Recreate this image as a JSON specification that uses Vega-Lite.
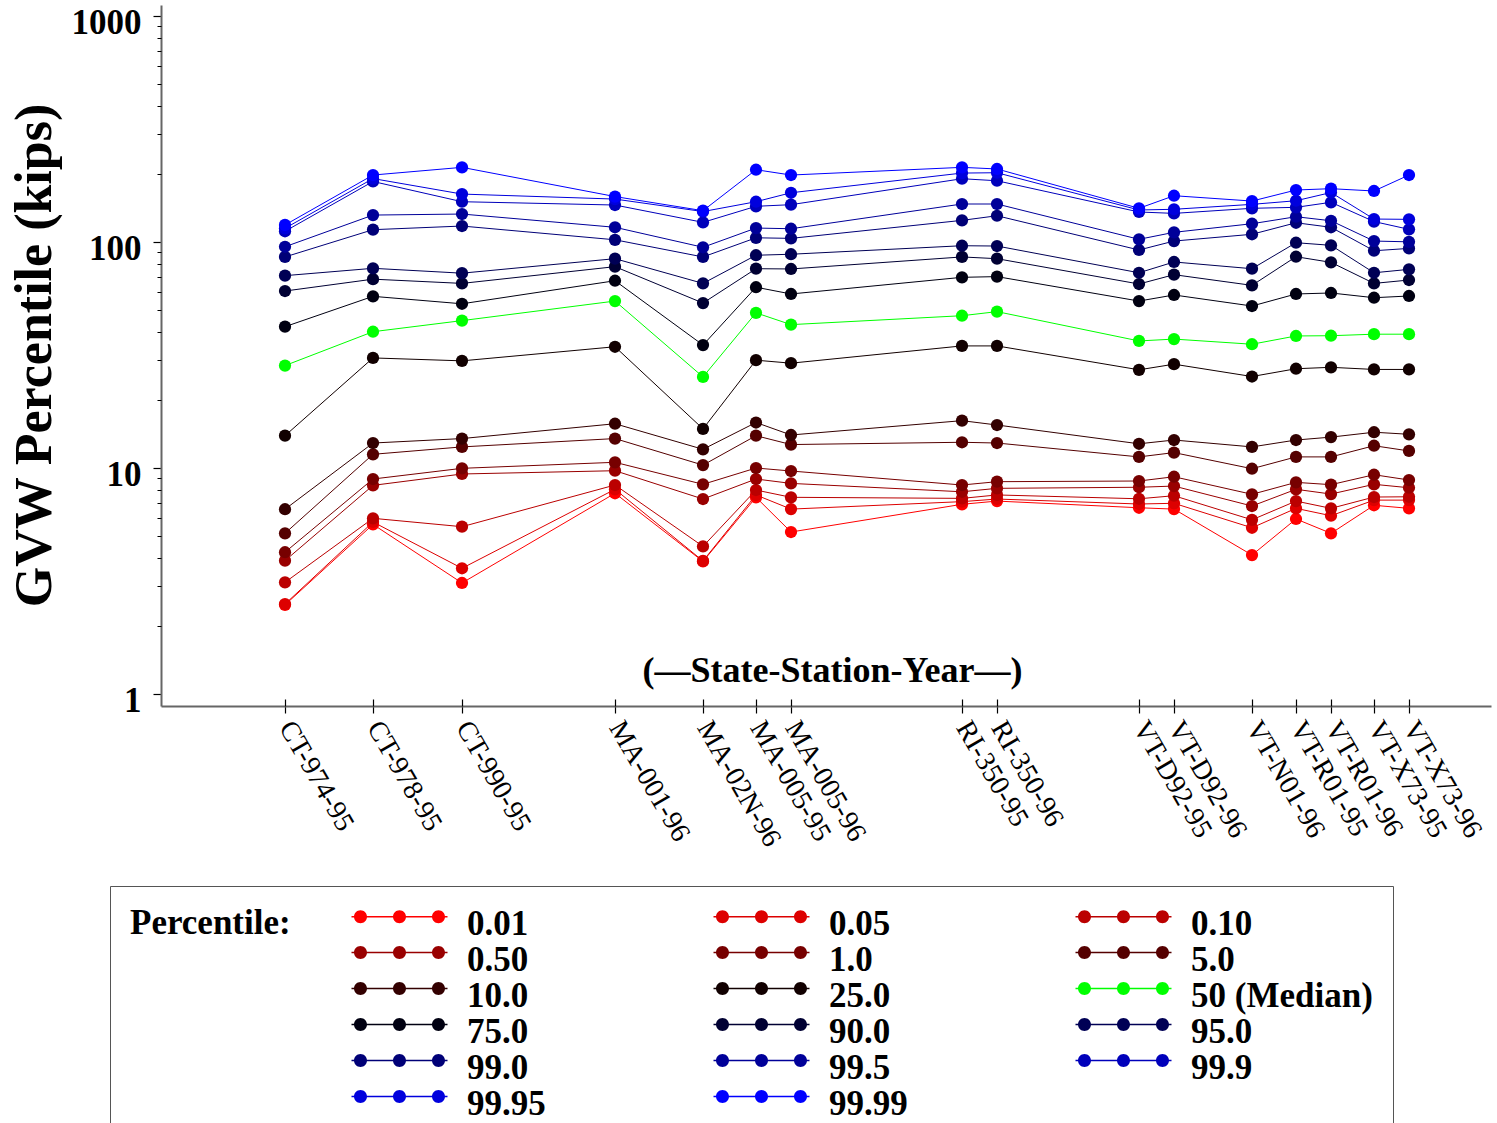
{
"$schema": "https://vega.github.io/schema/vega-lite/v6.json",
"width": 1330, "height": 701,
"autosize": {"type": "none"},
"padding": {"left": 161, "top": 5, "right": 6, "bottom": 417},
"background": "white",
"config": {"view": {"stroke": null}, "font": "Liberation Serif"},
"data": {"values": [
{"station":"CT-974-95","xpos":124,"pct":"0.01","gvw":2.48},{"station":"CT-974-95","xpos":124,"pct":"0.05","gvw":2.5},{"station":"CT-974-95","xpos":124,"pct":"0.10","gvw":3.12},{"station":"CT-974-95","xpos":124,"pct":"0.50","gvw":3.89},{"station":"CT-974-95","xpos":124,"pct":"1.0","gvw":4.24},{"station":"CT-974-95","xpos":124,"pct":"5.0","gvw":5.14},{"station":"CT-974-95","xpos":124,"pct":"10.0","gvw":6.57},{"station":"CT-974-95","xpos":124,"pct":"25.0","gvw":13.9},{"station":"CT-974-95","xpos":124,"pct":"50 (Median)","gvw":28.4},{"station":"CT-974-95","xpos":124,"pct":"75.0","gvw":42.2},{"station":"CT-974-95","xpos":124,"pct":"90.0","gvw":60.7},{"station":"CT-974-95","xpos":124,"pct":"95.0","gvw":71.0},{"station":"CT-974-95","xpos":124,"pct":"99.0","gvw":85.9},{"station":"CT-974-95","xpos":124,"pct":"99.5","gvw":95.3},{"station":"CT-974-95","xpos":124,"pct":"99.9","gvw":111.6},{"station":"CT-974-95","xpos":124,"pct":"99.95","gvw":115},{"station":"CT-974-95","xpos":124,"pct":"99.99","gvw":119},
{"station":"CT-978-95","xpos":212,"pct":"0.01","gvw":5.63},{"station":"CT-978-95","xpos":212,"pct":"0.05","gvw":5.77},{"station":"CT-978-95","xpos":212,"pct":"0.10","gvw":5.99},{"station":"CT-978-95","xpos":212,"pct":"0.50","gvw":8.38},{"station":"CT-978-95","xpos":212,"pct":"1.0","gvw":8.94},{"station":"CT-978-95","xpos":212,"pct":"5.0","gvw":11.5},{"station":"CT-978-95","xpos":212,"pct":"10.0","gvw":12.9},{"station":"CT-978-95","xpos":212,"pct":"25.0","gvw":30.7},{"station":"CT-978-95","xpos":212,"pct":"50 (Median)","gvw":40.1},{"station":"CT-978-95","xpos":212,"pct":"75.0","gvw":57.5},{"station":"CT-978-95","xpos":212,"pct":"90.0","gvw":68.5},{"station":"CT-978-95","xpos":212,"pct":"95.0","gvw":76.5},{"station":"CT-978-95","xpos":212,"pct":"99.0","gvw":113.4},{"station":"CT-978-95","xpos":212,"pct":"99.5","gvw":131.6},{"station":"CT-978-95","xpos":212,"pct":"99.9","gvw":185.3},{"station":"CT-978-95","xpos":212,"pct":"99.95","gvw":190.9},{"station":"CT-978-95","xpos":212,"pct":"99.99","gvw":197.9},
{"station":"CT-990-95","xpos":301,"pct":"0.01","gvw":3.1},{"station":"CT-990-95","xpos":301,"pct":"0.05","gvw":3.6},{"station":"CT-990-95","xpos":301,"pct":"0.10","gvw":5.5},{"station":"CT-990-95","xpos":301,"pct":"0.50","gvw":9.41},{"station":"CT-990-95","xpos":301,"pct":"1.0","gvw":9.97},{"station":"CT-990-95","xpos":301,"pct":"5.0","gvw":12.4},{"station":"CT-990-95","xpos":301,"pct":"10.0","gvw":13.5},{"station":"CT-990-95","xpos":301,"pct":"25.0","gvw":29.8},{"station":"CT-990-95","xpos":301,"pct":"50 (Median)","gvw":44.9},{"station":"CT-990-95","xpos":301,"pct":"75.0","gvw":53.3},{"station":"CT-990-95","xpos":301,"pct":"90.0","gvw":65.6},{"station":"CT-990-95","xpos":301,"pct":"95.0","gvw":72.8},{"station":"CT-990-95","xpos":301,"pct":"99.0","gvw":117.7},{"station":"CT-990-95","xpos":301,"pct":"99.5","gvw":133},{"station":"CT-990-95","xpos":301,"pct":"99.9","gvw":150.8},{"station":"CT-990-95","xpos":301,"pct":"99.95","gvw":163},{"station":"CT-990-95","xpos":301,"pct":"99.99","gvw":214},
{"station":"MA-001-96","xpos":454,"pct":"0.01","gvw":7.73},{"station":"MA-001-96","xpos":454,"pct":"0.05","gvw":8.05},{"station":"MA-001-96","xpos":454,"pct":"0.10","gvw":8.41},{"station":"MA-001-96","xpos":454,"pct":"0.50","gvw":9.73},{"station":"MA-001-96","xpos":454,"pct":"1.0","gvw":10.6},{"station":"MA-001-96","xpos":454,"pct":"5.0","gvw":13.5},{"station":"MA-001-96","xpos":454,"pct":"10.0","gvw":15.7},{"station":"MA-001-96","xpos":454,"pct":"25.0","gvw":34.4},{"station":"MA-001-96","xpos":454,"pct":"50 (Median)","gvw":54.8},{"station":"MA-001-96","xpos":454,"pct":"75.0","gvw":67.4},{"station":"MA-001-96","xpos":454,"pct":"90.0","gvw":77.8},{"station":"MA-001-96","xpos":454,"pct":"95.0","gvw":84.4},{"station":"MA-001-96","xpos":454,"pct":"99.0","gvw":102.3},{"station":"MA-001-96","xpos":454,"pct":"99.5","gvw":116.2},{"station":"MA-001-96","xpos":454,"pct":"99.9","gvw":145.8},{"station":"MA-001-96","xpos":454,"pct":"99.95","gvw":154.9},{"station":"MA-001-96","xpos":454,"pct":"99.99","gvw":158.9},
{"station":"MA-02N-96","xpos":542,"pct":"0.01","gvw":3.86},{"station":"MA-02N-96","xpos":542,"pct":"0.05","gvw":3.88},{"station":"MA-02N-96","xpos":542,"pct":"0.10","gvw":4.5},{"station":"MA-02N-96","xpos":542,"pct":"0.50","gvw":7.29},{"station":"MA-02N-96","xpos":542,"pct":"1.0","gvw":8.47},{"station":"MA-02N-96","xpos":542,"pct":"5.0","gvw":10.3},{"station":"MA-02N-96","xpos":542,"pct":"10.0","gvw":12.1},{"station":"MA-02N-96","xpos":542,"pct":"25.0","gvw":14.9},{"station":"MA-02N-96","xpos":542,"pct":"50 (Median)","gvw":25.3},{"station":"MA-02N-96","xpos":542,"pct":"75.0","gvw":35.0},{"station":"MA-02N-96","xpos":542,"pct":"90.0","gvw":53.7},{"station":"MA-02N-96","xpos":542,"pct":"95.0","gvw":65.6},{"station":"MA-02N-96","xpos":542,"pct":"99.0","gvw":85.9},{"station":"MA-02N-96","xpos":542,"pct":"99.5","gvw":94.8},{"station":"MA-02N-96","xpos":542,"pct":"99.9","gvw":122.2},{"station":"MA-02N-96","xpos":542,"pct":"99.95","gvw":136.4},{"station":"MA-02N-96","xpos":542,"pct":"99.99","gvw":137.6},
{"station":"MA-005-95","xpos":595,"pct":"0.01","gvw":7.42},{"station":"MA-005-95","xpos":595,"pct":"0.05","gvw":7.6},{"station":"MA-005-95","xpos":595,"pct":"0.10","gvw":7.99},{"station":"MA-005-95","xpos":595,"pct":"0.50","gvw":8.94},{"station":"MA-005-95","xpos":595,"pct":"1.0","gvw":10.0},{"station":"MA-005-95","xpos":595,"pct":"5.0","gvw":13.9},{"station":"MA-005-95","xpos":595,"pct":"10.0","gvw":15.9},{"station":"MA-005-95","xpos":595,"pct":"25.0","gvw":30.0},{"station":"MA-005-95","xpos":595,"pct":"50 (Median)","gvw":48.6},{"station":"MA-005-95","xpos":595,"pct":"75.0","gvw":63.1},{"station":"MA-005-95","xpos":595,"pct":"90.0","gvw":76.2},{"station":"MA-005-95","xpos":595,"pct":"95.0","gvw":87.4},{"station":"MA-005-95","xpos":595,"pct":"99.0","gvw":104.4},{"station":"MA-005-95","xpos":595,"pct":"99.5","gvw":115.3},{"station":"MA-005-95","xpos":595,"pct":"99.9","gvw":143.9},{"station":"MA-005-95","xpos":595,"pct":"99.95","gvw":150.8},{"station":"MA-005-95","xpos":595,"pct":"99.99","gvw":208.9},
{"station":"MA-005-96","xpos":630,"pct":"0.01","gvw":5.21},{"station":"MA-005-96","xpos":630,"pct":"0.05","gvw":6.58},{"station":"MA-005-96","xpos":630,"pct":"0.10","gvw":7.42},{"station":"MA-005-96","xpos":630,"pct":"0.50","gvw":8.55},{"station":"MA-005-96","xpos":630,"pct":"1.0","gvw":9.7},{"station":"MA-005-96","xpos":630,"pct":"5.0","gvw":12.7},{"station":"MA-005-96","xpos":630,"pct":"10.0","gvw":14.0},{"station":"MA-005-96","xpos":630,"pct":"25.0","gvw":29.1},{"station":"MA-005-96","xpos":630,"pct":"50 (Median)","gvw":43.1},{"station":"MA-005-96","xpos":630,"pct":"75.0","gvw":58.9},{"station":"MA-005-96","xpos":630,"pct":"90.0","gvw":76.0},{"station":"MA-005-96","xpos":630,"pct":"95.0","gvw":88.3},{"station":"MA-005-96","xpos":630,"pct":"99.0","gvw":103.8},{"station":"MA-005-96","xpos":630,"pct":"99.5","gvw":114.5},{"station":"MA-005-96","xpos":630,"pct":"99.9","gvw":146.3},{"station":"MA-005-96","xpos":630,"pct":"99.95","gvw":165.2},{"station":"MA-005-96","xpos":630,"pct":"99.99","gvw":197.9},
{"station":"RI-350-95","xpos":801,"pct":"0.01","gvw":6.91},{"station":"RI-350-95","xpos":801,"pct":"0.05","gvw":7.1},{"station":"RI-350-95","xpos":801,"pct":"0.10","gvw":7.34},{"station":"RI-350-95","xpos":801,"pct":"0.50","gvw":7.85},{"station":"RI-350-95","xpos":801,"pct":"1.0","gvw":8.41},{"station":"RI-350-95","xpos":801,"pct":"5.0","gvw":13.0},{"station":"RI-350-95","xpos":801,"pct":"10.0","gvw":16.2},{"station":"RI-350-95","xpos":801,"pct":"25.0","gvw":34.7},{"station":"RI-350-95","xpos":801,"pct":"50 (Median)","gvw":47.2},{"station":"RI-350-95","xpos":801,"pct":"75.0","gvw":69.8},{"station":"RI-350-95","xpos":801,"pct":"90.0","gvw":85.9},{"station":"RI-350-95","xpos":801,"pct":"95.0","gvw":96.3},{"station":"RI-350-95","xpos":801,"pct":"99.0","gvw":124.7},{"station":"RI-350-95","xpos":801,"pct":"99.5","gvw":147.3},{"station":"RI-350-95","xpos":801,"pct":"99.9","gvw":190.6},{"station":"RI-350-95","xpos":801,"pct":"99.95","gvw":201.9},{"station":"RI-350-95","xpos":801,"pct":"99.99","gvw":214},
{"station":"RI-350-96","xpos":836,"pct":"0.01","gvw":7.14},{"station":"RI-350-96","xpos":836,"pct":"0.05","gvw":7.29},{"station":"RI-350-96","xpos":836,"pct":"0.10","gvw":7.6},{"station":"RI-350-96","xpos":836,"pct":"0.50","gvw":8.13},{"station":"RI-350-96","xpos":836,"pct":"1.0","gvw":8.7},{"station":"RI-350-96","xpos":836,"pct":"5.0","gvw":12.9},{"station":"RI-350-96","xpos":836,"pct":"10.0","gvw":15.5},{"station":"RI-350-96","xpos":836,"pct":"25.0","gvw":34.7},{"station":"RI-350-96","xpos":836,"pct":"50 (Median)","gvw":49.2},{"station":"RI-350-96","xpos":836,"pct":"75.0","gvw":70.3},{"station":"RI-350-96","xpos":836,"pct":"90.0","gvw":84.4},{"station":"RI-350-96","xpos":836,"pct":"95.0","gvw":96.0},{"station":"RI-350-96","xpos":836,"pct":"99.0","gvw":130.7},{"station":"RI-350-96","xpos":836,"pct":"99.5","gvw":147.3},{"station":"RI-350-96","xpos":836,"pct":"99.9","gvw":186.7},{"station":"RI-350-96","xpos":836,"pct":"99.95","gvw":202.6},{"station":"RI-350-96","xpos":836,"pct":"99.99","gvw":210.5},
{"station":"VT-D92-95","xpos":978,"pct":"0.01","gvw":6.67},{"station":"VT-D92-95","xpos":978,"pct":"0.05","gvw":6.93},{"station":"VT-D92-95","xpos":978,"pct":"0.10","gvw":7.31},{"station":"VT-D92-95","xpos":978,"pct":"0.50","gvw":8.22},{"station":"VT-D92-95","xpos":978,"pct":"1.0","gvw":8.76},{"station":"VT-D92-95","xpos":978,"pct":"5.0","gvw":11.2},{"station":"VT-D92-95","xpos":978,"pct":"10.0","gvw":12.8},{"station":"VT-D92-95","xpos":978,"pct":"25.0","gvw":27.2},{"station":"VT-D92-95","xpos":978,"pct":"50 (Median)","gvw":36.5},{"station":"VT-D92-95","xpos":978,"pct":"75.0","gvw":54.8},{"station":"VT-D92-95","xpos":978,"pct":"90.0","gvw":65.2},{"station":"VT-D92-95","xpos":978,"pct":"95.0","gvw":73.1},{"station":"VT-D92-95","xpos":978,"pct":"99.0","gvw":92.2},{"station":"VT-D92-95","xpos":978,"pct":"99.5","gvw":102.8},{"station":"VT-D92-95","xpos":978,"pct":"99.9","gvw":135.8},{"station":"VT-D92-95","xpos":978,"pct":"99.95","gvw":138.6},{"station":"VT-D92-95","xpos":978,"pct":"99.99","gvw":141},
{"station":"VT-D92-96","xpos":1013,"pct":"0.01","gvw":6.58},{"station":"VT-D92-96","xpos":1013,"pct":"0.05","gvw":6.98},{"station":"VT-D92-96","xpos":1013,"pct":"0.10","gvw":7.54},{"station":"VT-D92-96","xpos":1013,"pct":"0.50","gvw":8.32},{"station":"VT-D92-96","xpos":1013,"pct":"1.0","gvw":9.15},{"station":"VT-D92-96","xpos":1013,"pct":"5.0","gvw":11.7},{"station":"VT-D92-96","xpos":1013,"pct":"10.0","gvw":13.3},{"station":"VT-D92-96","xpos":1013,"pct":"25.0","gvw":28.8},{"station":"VT-D92-96","xpos":1013,"pct":"50 (Median)","gvw":37.2},{"station":"VT-D92-96","xpos":1013,"pct":"75.0","gvw":58.3},{"station":"VT-D92-96","xpos":1013,"pct":"90.0","gvw":71.7},{"station":"VT-D92-96","xpos":1013,"pct":"95.0","gvw":81.6},{"station":"VT-D92-96","xpos":1013,"pct":"99.0","gvw":101},{"station":"VT-D92-96","xpos":1013,"pct":"99.5","gvw":110.4},{"station":"VT-D92-96","xpos":1013,"pct":"99.9","gvw":133.9},{"station":"VT-D92-96","xpos":1013,"pct":"99.95","gvw":139.6},{"station":"VT-D92-96","xpos":1013,"pct":"99.99","gvw":160.3},
{"station":"VT-N01-96","xpos":1091,"pct":"0.01","gvw":4.12},{"station":"VT-N01-96","xpos":1091,"pct":"0.05","gvw":5.44},{"station":"VT-N01-96","xpos":1091,"pct":"0.10","gvw":5.9},{"station":"VT-N01-96","xpos":1091,"pct":"0.50","gvw":6.79},{"station":"VT-N01-96","xpos":1091,"pct":"1.0","gvw":7.65},{"station":"VT-N01-96","xpos":1091,"pct":"5.0","gvw":9.93},{"station":"VT-N01-96","xpos":1091,"pct":"10.0","gvw":12.4},{"station":"VT-N01-96","xpos":1091,"pct":"25.0","gvw":25.4},{"station":"VT-N01-96","xpos":1091,"pct":"50 (Median)","gvw":35.3},{"station":"VT-N01-96","xpos":1091,"pct":"75.0","gvw":52.1},{"station":"VT-N01-96","xpos":1091,"pct":"90.0","gvw":64.3},{"station":"VT-N01-96","xpos":1091,"pct":"95.0","gvw":76.2},{"station":"VT-N01-96","xpos":1091,"pct":"99.0","gvw":108.2},{"station":"VT-N01-96","xpos":1091,"pct":"99.5","gvw":120.5},{"station":"VT-N01-96","xpos":1091,"pct":"99.9","gvw":141},{"station":"VT-N01-96","xpos":1091,"pct":"99.95","gvw":146.8},{"station":"VT-N01-96","xpos":1091,"pct":"99.99","gvw":151.8},
{"station":"VT-R01-95","xpos":1135,"pct":"0.01","gvw":5.95},{"station":"VT-R01-95","xpos":1135,"pct":"0.05","gvw":6.63},{"station":"VT-R01-95","xpos":1135,"pct":"0.10","gvw":7.14},{"station":"VT-R01-95","xpos":1135,"pct":"0.50","gvw":8.05},{"station":"VT-R01-95","xpos":1135,"pct":"1.0","gvw":8.64},{"station":"VT-R01-95","xpos":1135,"pct":"5.0","gvw":11.2},{"station":"VT-R01-95","xpos":1135,"pct":"10.0","gvw":13.3},{"station":"VT-R01-95","xpos":1135,"pct":"25.0","gvw":27.5},{"station":"VT-R01-95","xpos":1135,"pct":"50 (Median)","gvw":38.4},{"station":"VT-R01-95","xpos":1135,"pct":"75.0","gvw":58.9},{"station":"VT-R01-95","xpos":1135,"pct":"90.0","gvw":86.1},{"station":"VT-R01-95","xpos":1135,"pct":"95.0","gvw":99.3},{"station":"VT-R01-95","xpos":1135,"pct":"99.0","gvw":121.7},{"station":"VT-R01-95","xpos":1135,"pct":"99.5","gvw":129.4},{"station":"VT-R01-95","xpos":1135,"pct":"99.9","gvw":142.4},{"station":"VT-R01-95","xpos":1135,"pct":"99.95","gvw":152.3},{"station":"VT-R01-95","xpos":1135,"pct":"99.99","gvw":169.9},
{"station":"VT-R01-96","xpos":1170,"pct":"0.01","gvw":5.14},{"station":"VT-R01-96","xpos":1170,"pct":"0.05","gvw":6.15},{"station":"VT-R01-96","xpos":1170,"pct":"0.10","gvw":6.63},{"station":"VT-R01-96","xpos":1170,"pct":"0.50","gvw":7.67},{"station":"VT-R01-96","xpos":1170,"pct":"1.0","gvw":8.44},{"station":"VT-R01-96","xpos":1170,"pct":"5.0","gvw":11.2},{"station":"VT-R01-96","xpos":1170,"pct":"10.0","gvw":13.7},{"station":"VT-R01-96","xpos":1170,"pct":"25.0","gvw":27.9},{"station":"VT-R01-96","xpos":1170,"pct":"50 (Median)","gvw":38.5},{"station":"VT-R01-96","xpos":1170,"pct":"75.0","gvw":59.5},{"station":"VT-R01-96","xpos":1170,"pct":"90.0","gvw":81.3},{"station":"VT-R01-96","xpos":1170,"pct":"95.0","gvw":96.7},{"station":"VT-R01-96","xpos":1170,"pct":"99.0","gvw":116.2},{"station":"VT-R01-96","xpos":1170,"pct":"99.5","gvw":124.2},{"station":"VT-R01-96","xpos":1170,"pct":"99.9","gvw":149.9},{"station":"VT-R01-96","xpos":1170,"pct":"99.95","gvw":165.6},{"station":"VT-R01-96","xpos":1170,"pct":"99.99","gvw":172.2},
{"station":"VT-X73-95","xpos":1213,"pct":"0.01","gvw":6.84},{"station":"VT-X73-95","xpos":1213,"pct":"0.05","gvw":7.21},{"station":"VT-X73-95","xpos":1213,"pct":"0.10","gvw":7.44},{"station":"VT-X73-95","xpos":1213,"pct":"0.50","gvw":8.47},{"station":"VT-X73-95","xpos":1213,"pct":"1.0","gvw":9.34},{"station":"VT-X73-95","xpos":1213,"pct":"5.0","gvw":12.55},{"station":"VT-X73-95","xpos":1213,"pct":"10.0","gvw":14.4},{"station":"VT-X73-95","xpos":1213,"pct":"25.0","gvw":27.3},{"station":"VT-X73-95","xpos":1213,"pct":"50 (Median)","gvw":39.1},{"station":"VT-X73-95","xpos":1213,"pct":"75.0","gvw":56.7},{"station":"VT-X73-95","xpos":1213,"pct":"90.0","gvw":65.6},{"station":"VT-X73-95","xpos":1213,"pct":"95.0","gvw":73.1},{"station":"VT-X73-95","xpos":1213,"pct":"99.0","gvw":91.5},{"station":"VT-X73-95","xpos":1213,"pct":"99.5","gvw":101},{"station":"VT-X73-95","xpos":1213,"pct":"99.9","gvw":123.2},{"station":"VT-X73-95","xpos":1213,"pct":"99.95","gvw":126.4},{"station":"VT-X73-95","xpos":1213,"pct":"99.99","gvw":168.2},
{"station":"VT-X73-96","xpos":1248,"pct":"0.01","gvw":6.63},{"station":"VT-X73-96","xpos":1248,"pct":"0.05","gvw":7.21},{"station":"VT-X73-96","xpos":1248,"pct":"0.10","gvw":7.46},{"station":"VT-X73-96","xpos":1248,"pct":"0.50","gvw":8.18},{"station":"VT-X73-96","xpos":1248,"pct":"1.0","gvw":8.85},{"station":"VT-X73-96","xpos":1248,"pct":"5.0","gvw":11.9},{"station":"VT-X73-96","xpos":1248,"pct":"10.0","gvw":14.1},{"station":"VT-X73-96","xpos":1248,"pct":"25.0","gvw":27.3},{"station":"VT-X73-96","xpos":1248,"pct":"50 (Median)","gvw":39.1},{"station":"VT-X73-96","xpos":1248,"pct":"75.0","gvw":57.7},{"station":"VT-X73-96","xpos":1248,"pct":"90.0","gvw":67.9},{"station":"VT-X73-96","xpos":1248,"pct":"95.0","gvw":75.7},{"station":"VT-X73-96","xpos":1248,"pct":"99.0","gvw":93.7},{"station":"VT-X73-96","xpos":1248,"pct":"99.5","gvw":100.2},{"station":"VT-X73-96","xpos":1248,"pct":"99.9","gvw":113.8},{"station":"VT-X73-96","xpos":1248,"pct":"99.95","gvw":126},{"station":"VT-X73-96","xpos":1248,"pct":"99.99","gvw":197.9}
]},
"encoding": {
  "color": {"field": "pct", "type": "nominal",
   "scale": {"domain": ["0.01","0.05","0.10","0.50","1.0","5.0","10.0","25.0","50 (Median)","75.0","90.0","95.0","99.0","99.5","99.9","99.95","99.99"],
    "range": ["#ff0000","#dd0000","#bb0000","#990000","#770000","#550000","#330000","#110000","#00ff00","#000011","#000033","#000055","#000077","#000099","#0000bb","#0000dd","#0000ff"]},
   "legend": {"orient": "none", "legendX": -51, "legendY": 881, "columns": 3, "direction": "horizontal",
    "title": "Percentile:", "titleOrient": "left", "titleAnchor": "start", "titleBaseline": "top", "titleFont": "Liberation Serif", "titleFontSize": 35, "titleFontWeight": "bold", "titleColor": "black", "titlePadding": 91, "titleLimit": 400,
    "labelFont": "Liberation Serif", "labelFontSize": 35, "labelFontWeight": "bold", "labelColor": "black", "labelLimit": 400, "labelOffset": 50,
    "symbolType": "M-4.8,-0.78H4.8V-0.62H-4.8Z M-4.55,-0.7a0.65,0.65 0 1,1 1.3,0a0.65,0.65 0 1,1 -1.3,0Z M-0.65,-0.7a0.65,0.65 0 1,1 1.3,0a0.65,0.65 0 1,1 -1.3,0Z M3.25,-0.7a0.65,0.65 0 1,1 1.3,0a0.65,0.65 0 1,1 -1.3,0Z",
    "symbolSize": 400, "symbolStrokeWidth": 0, "symbolOffset": 0, "symbolOpacity": 1,
    "rowPadding": 0, "columnPadding": 167, "padding": 20, "strokeColor": "#555555", "gridAlign": "each"}}
},
"resolve": {"axis": {"x": "independent", "y": "independent"}},
"layer": [
{"mark": {"type": "line", "strokeWidth": 1},
 "encoding": {
  "x": {"field": "xpos", "type": "quantitative", "scale": {"domain": [0, 1330], "nice": false, "zero": false},
   "axis": {"orient": "bottom", "values": [124,212,301,454,542,595,630,801,836,978,1013,1091,1135,1170,1213,1248],
    "labelExpr": "['CT-974-95','CT-978-95','CT-990-95','MA-001-96','MA-02N-96','MA-005-95','MA-005-96','RI-350-95','RI-350-96','VT-D92-95','VT-D92-96','VT-N01-96','VT-R01-95','VT-R01-96','VT-X73-95','VT-X73-96'][indexof([124,212,301,454,542,595,630,801,836,978,1013,1091,1135,1170,1213,1248], datum.value)]",
    "labelAngle": 60, "labelAlign": "left", "labelBaseline": "middle", "labelFont": "Liberation Serif", "labelFontSize": 28, "labelColor": "black", "labelPadding": 10, "labelOverlap": false, "labelBound": false, "labelFlush": false,
    "tickSize": 7, "tickColor": "black", "tickWidth": 1.2, "domainColor": "#666666", "domainWidth": 2, "grid": false,
    "title": "(—State-Station-Year—)", "titleFont": "Liberation Serif", "titleFontSize": 36, "titleFontWeight": "bold", "titleColor": "black", "titleX": 671, "titleY": -36, "titleBaseline": "middle", "titleAlign": "center"}},
  "y": {"field": "gvw", "type": "quantitative", "scale": {"type": "log", "domain": [0.885, 1119], "nice": false},
   "axis": {"orient": "left", "values": [1, 10, 100, 1000], "format": "d", "labelFont": "Liberation Serif", "labelFontSize": 35, "labelFontWeight": "bold", "labelColor": "black", "labelPadding": 12, "labelOffset": 6,
    "tickSize": 8, "tickColor": "black", "tickWidth": 1.2, "domainColor": "#666666", "domainWidth": 2, "grid": false,
    "title": "GVW Percentile (kips)", "titleFont": "Liberation Serif", "titleFontSize": 52, "titleFontWeight": "bold", "titleColor": "black", "titleX": -127, "titleY": 350, "titleAngle": -90, "titleBaseline": "middle", "titleAlign": "center"}}
 }},
{"mark": {"type": "point", "filled": true, "size": 150, "opacity": 1},
 "encoding": {
  "x": {"field": "xpos", "type": "quantitative",
   "axis": {"orient": "bottom", "values": [124,212,301,454,542,595,630,801,836,978,1013,1091,1135,1170,1213,1248], "tickSize": -7, "tickColor": "black", "tickWidth": 1.2, "labels": false, "domain": false, "grid": false, "title": null}},
  "y": {"field": "gvw", "type": "quantitative",
   "axis": {"orient": "left", "values": [2,3,4,5,6,7,8,9,20,30,40,50,60,70,80,90,200,300,400,500,600,700,800,900], "tickSize": 4, "tickColor": "black", "tickWidth": 1, "labels": false, "domain": false, "grid": false, "title": null}}
 }}
]
}
